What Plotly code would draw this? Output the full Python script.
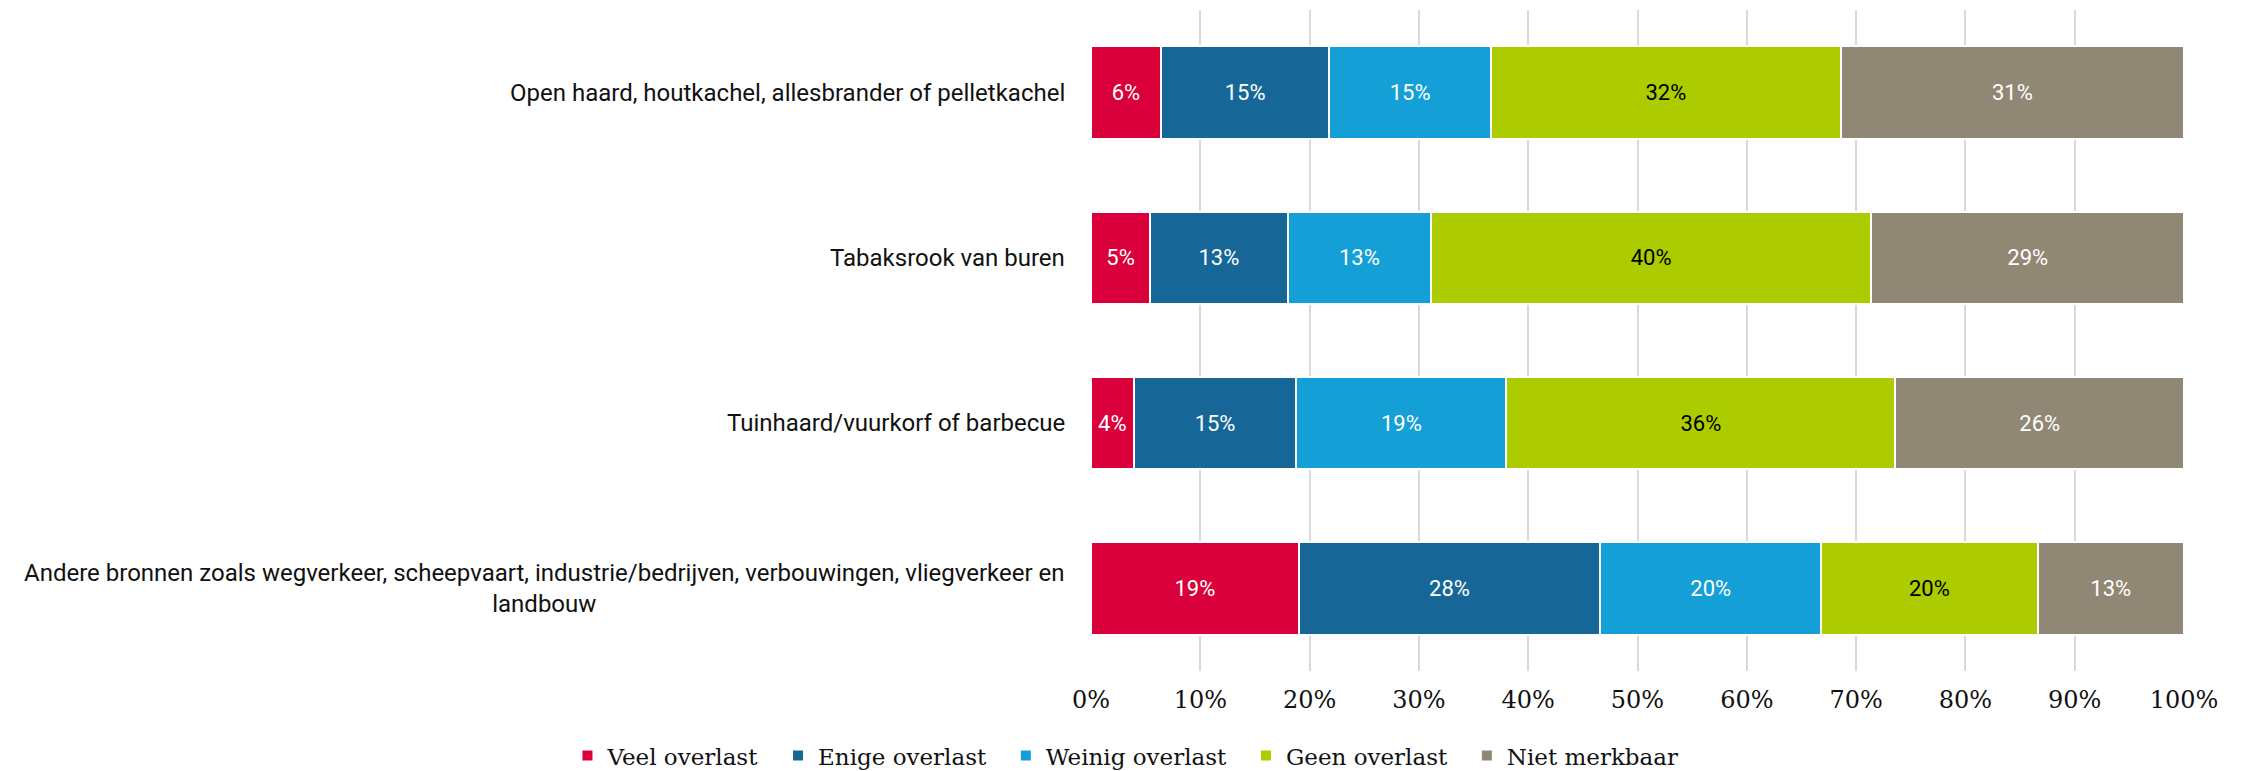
import plotly.graph_objects as go

categories = [
    "Open haard, houtkachel, allesbrander of pelletkachel",
    "Tabaksrook van buren",
    "Tuinhaard/vuurkorf of barbecue",
    "Andere bronnen zoals wegverkeer, scheepvaart, industrie/bedrijven, verbouwingen, vliegverkeer en<br>landbouw",
]
series_names = ["Veel overlast", "Enige overlast", "Weinig overlast", "Geen overlast", "Niet merkbaar"]
veel = [6.4, 5.4, 3.9, 19.0]
enige = [15.4, 12.6, 14.9, 27.6]
weinig = [14.8, 13.1, 19.2, 20.2]
geen = [32.0, 40.3, 35.6, 19.8]
niet = [31.4, 28.6, 26.4, 13.4]
series_values = [veel, enige, weinig, geen, niet]
colors = ["#D9003C", "#166797", "#14A0D7", "#ADCC00", "#918775"]
text_colors = ["#FFFFFF", "#FFFFFF", "#FFFFFF", "#000000", "#FFFFFF"]
tick_vals = [0, 10, 20, 30, 40, 50, 60, 70, 80, 90, 100]
tick_text = ["0%", "10%", "20%", "30%", "40%", "50%", "60%", "70%", "80%", "90%", "100%"]

fig = go.Figure()
for name, vals, col, tcol in zip(series_names, series_values, colors, text_colors):
    fig.add_trace(go.Bar(
        y=categories, x=vals, name=name + "\u00a0\u00a0", orientation="h",
        marker=dict(color=col, line=dict(color="#FFFFFF", width=2)),
        texttemplate="%{x:.0f}%", textposition="inside",
        insidetextanchor="middle", textangle=0,
        insidetextfont=dict(family="Roboto", size=22, color=tcol),
        hoverinfo="skip",
    ))

for cat in categories:
    fig.add_annotation(
        x=0, xref="paper", y=cat, yref="y", text=cat,
        xanchor="right", yanchor="middle", align="center", xshift=-24,
        showarrow=False, font=dict(family="Roboto", size=24, color="#111111"),
    )

fig.update_layout(
    width=2244, height=771,
    barmode="stack", bargap=0.44,
    plot_bgcolor="#FFFFFF", paper_bgcolor="#FFFFFF",
    margin=dict(l=1083, r=68, t=2, b=106),
    xaxis=dict(
        range=[0, 100], tickvals=tick_vals, ticktext=tick_text,
        showgrid=True, gridcolor="#D9D9D9", gridwidth=2, zeroline=False,
        showline=False, ticks="", ticklabelstandoff=12,
        tickfont=dict(family="DejaVu Serif", size=24, color="#111111"),
    ),
    yaxis=dict(autorange="reversed", showticklabels=False, showgrid=False, zeroline=False),
    showlegend=True,
    legend=dict(
        orientation="h", xref="paper", yref="paper",
        x=-0.479, xanchor="left", y=-0.128, yanchor="middle",
        font=dict(family="DejaVu Serif", size=23, color="#111111"),
        itemwidth=30, traceorder="normal",
    ),
)

fig.write_html("out.html")
